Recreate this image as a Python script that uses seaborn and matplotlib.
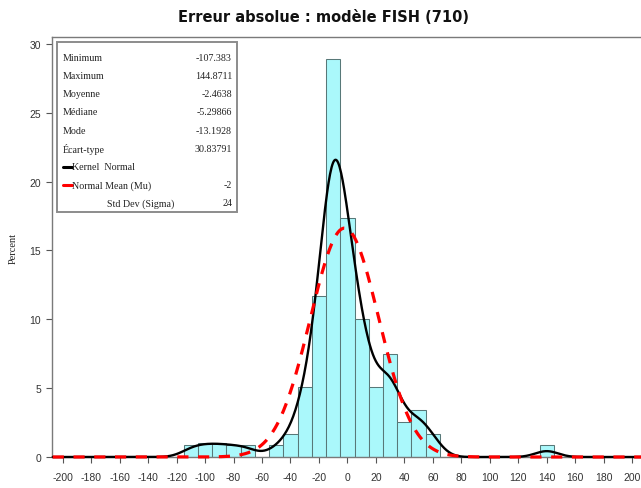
import numpy as np
import pandas as pd
import matplotlib
matplotlib.use("Agg")
import matplotlib.pyplot as plt
import seaborn as sns
from matplotlib.lines import Line2D
from matplotlib.patches import Rectangle

# Histogram of absolute errors: bin centres (bins 10 wide) and percent of the 710 cases
bin_centers = [-110, -100, -90, -80, -70, -60, -50, -40, -30, -20, -10, 0, 10,
               20, 30, 40, 50, 60, 70, 80, 90, 100, 110, 120, 130, 140]
bin_percent = [0.85, 0.99, 0.99, 0.85, 0.85, 0.0, 0.85, 1.69, 5.07, 11.69, 28.87,
               17.32, 9.99, 5.07, 7.46, 2.54, 3.38, 1.69, 0.0, 0.0, 0.0, 0.0,
               0.0, 0.0, 0.0, 0.85]
bin_width = 10

# Fitted normal curve
normal_mu = -2
normal_sigma = 24

# Summary statistics box
stat_labels = ["Minimum", "Maximum", "Moyenne", "Médiane", "Mode", "Écart-type"]
stat_values = ["-107.383", "144.8711", "-2.4638", "-5.29866", "-13.1928", "30.83791"]
kernel_label = "Kernel  Normal"
normal_labels = ["Normal Mean (Mu)", "Std Dev (Sigma)"]
normal_values = [str(normal_mu), str(normal_sigma)]

x_ticks = list(range(-200, 201, 20))
y_ticks = [0, 5, 10, 15, 20, 25, 30]

title = "Erreur absolue : modèle FISH (710)"
y_label = "Percent"

sns.set_theme(style="white")
plt.rcParams["font.family"] = ["Liberation Sans", "DejaVu Sans"]
plt.rcParams["axes.unicode_minus"] = False

W, H = 641, 489
fig = plt.figure(figsize=(W / 100, H / 100), dpi=100)


def fx(px):
    return px / W


def fy(py):
    return 1 - py / H


ax = fig.add_axes([fx(52), fy(458), (646.4 - 52) / W, (458 - 38) / H])

df = pd.DataFrame({"erreur": bin_centers, "pct": bin_percent})
sns.histplot(
    data=df, x="erreur", weights="pct", stat="count",
    binwidth=bin_width, binrange=(-115, 145),
    color="#aaf8fb", alpha=1, edgecolor="#587878", linewidth=0.75,
    kde=True,
    kde_kws=dict(bw_method=0.235, cut=20, clip=(-207, 207), gridsize=800),
    line_kws=dict(lw=1.7, clip_on=False, zorder=3),
    ax=ax,
)
kernel_line = ax.lines[-1]
kernel_line.set_color("black")

# Normal density with the stated mean and sigma, in percent per bin
grid = np.linspace(-207, 207, 800)
normal_pct = 100 * bin_width * np.exp(-0.5 * ((grid - normal_mu) / normal_sigma) ** 2) / (
    normal_sigma * np.sqrt(2 * np.pi))
sns.lineplot(x=grid, y=normal_pct, color="#ff0000", lw=2.3, ax=ax,
             clip_on=False, zorder=4)
normal_line = ax.lines[-1]
normal_line.set_linestyle((0, (3.5, 3.0)))

ax.set_xlim(-207.5, 210)
ax.set_ylim(0, 30.5)
ax.set_xticks(x_ticks)
ax.set_yticks(y_ticks)
ax.set_xlabel("")
ax.set_ylabel(y_label, fontsize=7.5, family="Liberation Serif", color="#222222")
ax.yaxis.set_label_coords(-0.057, 0.5)

for side in ["left", "bottom", "top"]:
    ax.spines[side].set_color("#7a7a7a")
    ax.spines[side].set_linewidth(1.0)
ax.spines["right"].set_visible(False)

ax.tick_params(axis="both", bottom=True, left=True, direction="out", length=4.5,
               width=0.8, color="#555555", labelsize=7.5, labelcolor="#333333")
ax.tick_params(axis="x", pad=6)
ax.tick_params(axis="y", pad=3.5)

# Statistics box
fig.add_artist(Rectangle((fx(57), fy(213)), fx(237) - fx(57), fy(43) - fy(213),
                         transform=fig.transFigure, facecolor="white",
                         edgecolor="#8c8c8c", linewidth=1.4, zorder=5))
row0, row_step = 58.3, 18.2
text_kw = dict(family="Liberation Serif", size=7.2, color="#222222", va="center", zorder=6)
for i, (lab, val) in enumerate(zip(stat_labels, stat_values)):
    y = row0 + i * row_step
    fig.text(fx(62.7), fy(y), lab, ha="left", **text_kw)
    fig.text(fx(232), fy(y), val, ha="right", **text_kw)

y_k = row0 + 6 * row_step
fig.add_artist(Line2D([fx(62.5), fx(71.5)], [fy(y_k), fy(y_k)], color="black", lw=2.2,
                      transform=fig.transFigure, zorder=6))
fig.text(fx(72.5), fy(y_k), kernel_label, ha="left", **text_kw)

y_n = row0 + 7 * row_step
fig.add_artist(Line2D([fx(62.5), fx(71.5)], [fy(y_n), fy(y_n)], color="#ff0000", lw=2.2,
                      transform=fig.transFigure, zorder=6))
fig.text(fx(72.5), fy(y_n), normal_labels[0], ha="left", **text_kw)
fig.text(fx(232), fy(y_n), normal_values[0], ha="right", **text_kw)

y_s = row0 + 8 * row_step
fig.text(fx(106.7), fy(y_s), normal_labels[1], ha="left", **text_kw)
fig.text(fx(232), fy(y_s), normal_values[1], ha="right", **text_kw)

fig.text(fx(323), fy(17.5), title, ha="center", va="center", weight="bold",
         size=10.5, family="DejaVu Sans", color="#111111")

fig.savefig("out.png", dpi=100)
